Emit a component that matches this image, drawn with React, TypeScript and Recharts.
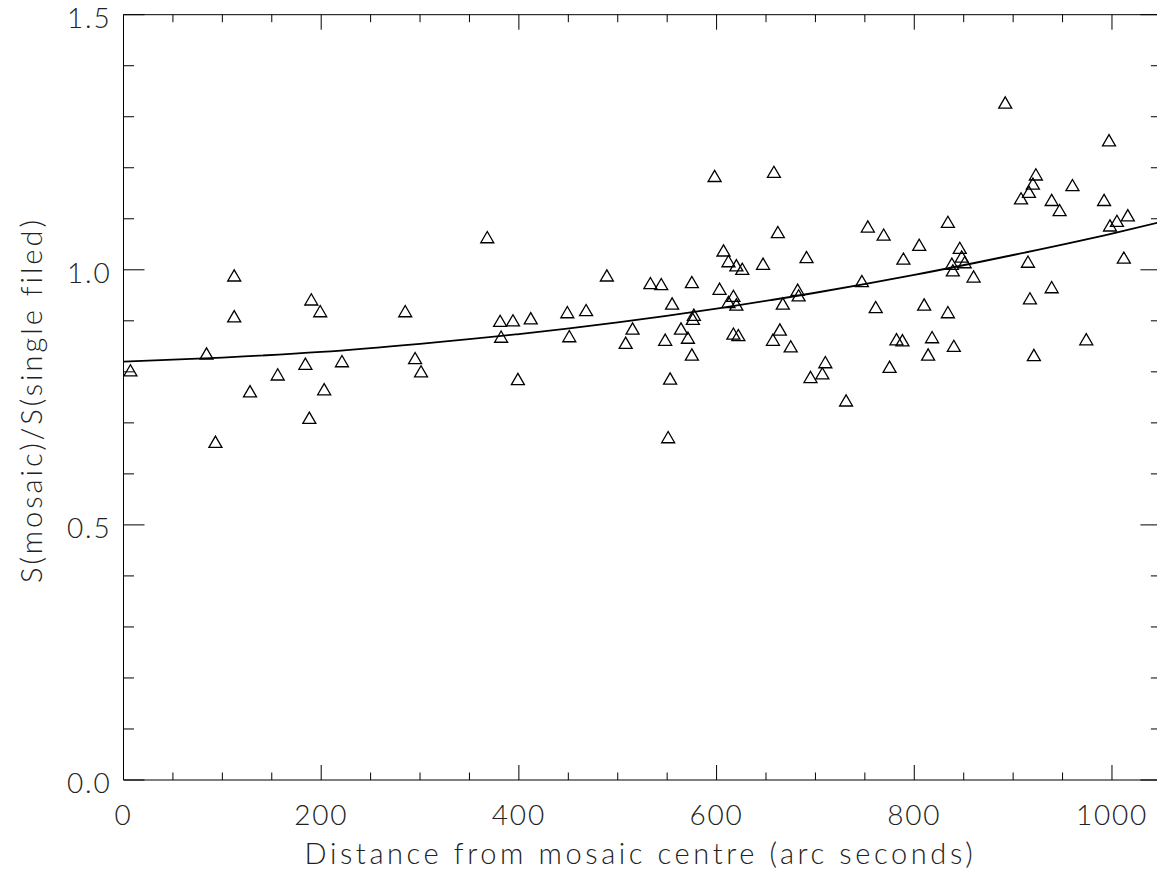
import React from 'react'
import { ComposedChart, Scatter, Line, XAxis, YAxis } from 'recharts'

// distance from mosaic centre (arc seconds)
const distances = [
  7, 84, 93, 112, 112, 128, 156, 184, 188, 190, 199, 203, 221, 285, 295, 301,
  368, 381, 382, 394, 399, 412, 449, 451, 468, 489, 508, 515, 533, 544, 548,
  551, 553, 555, 564, 571, 575, 575, 577, 576, 598, 603, 607, 612, 617, 612,
  620, 617, 622, 620, 626, 647, 658, 662, 657, 664, 667, 675, 682, 683, 691,
  695, 707, 710, 731, 747, 753, 761, 769, 775, 782, 788, 789, 805, 810, 814,
  818, 834, 834, 838, 839, 840, 846, 848, 851, 860, 892, 908, 916, 920, 923,
  915, 917, 921, 939, 939, 947, 960, 974, 992, 997, 998, 1005, 1012, 1016,
]

// S(mosaic)/S(single field)
const ratios = [
  0.803, 0.836, 0.663, 0.989, 0.909, 0.762, 0.795, 0.816, 0.71, 0.942, 0.919,
  0.766, 0.821, 0.919, 0.827, 0.801, 1.064, 0.9, 0.869, 0.901, 0.786, 0.905,
  0.917, 0.87, 0.921, 0.989, 0.857, 0.885, 0.974, 0.972, 0.863, 0.672, 0.787,
  0.934, 0.885, 0.867, 0.976, 0.834, 0.912, 0.904, 1.184, 0.963, 1.038, 1.017,
  0.949, 0.937, 0.932, 0.875, 0.872, 1.009, 1.002, 1.012, 1.192, 1.074, 0.863,
  0.883, 0.934, 0.85, 0.961, 0.95, 1.025, 0.79, 0.797, 0.819, 0.744, 0.978,
  1.085, 0.927, 1.069, 0.81, 0.864, 0.862, 1.022, 1.049, 0.932, 0.834, 0.868,
  1.094, 0.917, 1.012, 0.999, 0.851, 1.043, 1.026, 1.015, 0.987, 1.328, 1.14,
  1.153, 1.169, 1.187, 1.016, 0.944, 0.833, 0.966, 1.137, 1.117, 1.166, 0.864,
  1.137, 1.254, 1.087, 1.096, 1.024, 1.107,
]

// fitted curve
const fitDistances = [0, 100, 200, 300, 400, 500, 600, 700, 800, 900, 1000, 1050]
const fitValues = [0.82, 0.828, 0.839, 0.855, 0.874, 0.897, 0.924, 0.955, 0.99, 1.029, 1.071, 1.094]

const xTicks = [
  0, 50, 100, 150, 200, 250, 300, 350, 400, 450, 500, 550, 600, 650, 700, 750,
  800, 850, 900, 950, 1000,
]
const yTicks = [0, 0.1, 0.2, 0.3, 0.4, 0.5, 0.6, 0.7, 0.8, 0.9, 1.0, 1.1, 1.2, 1.3, 1.4, 1.5]

const points = distances.map((x, i) => ({ x, y: ratios[i] }))
const fit = fitDistances.map((x, i) => ({ x, y: fitValues[i] }))

const FONT = 'Lato, "DejaVu Sans", sans-serif'
const textStyle = { fontFamily: FONT, fontSize: 29, fontWeight: 300, fill: '#222', letterSpacing: 1.6 }
const tickStyle = { ...textStyle, fontSize: 28, letterSpacing: 1.8 }

const isMajorX = (v: number) => v % 200 === 0
const isMajorY = (v: number) => Math.abs(v * 2 - Math.round(v * 2)) < 1e-6

const BottomTick = (props: any) => {
  const { x, y, payload } = props
  const major = isMajorX(payload.value)
  return (
    <g>
      <line x1={x} x2={x} y1={y} y2={y - (major ? 15 : 7.5)} stroke="#000" />
      {major && (
        <text x={x} y={y + 34} textAnchor="middle" dominantBaseline="central" style={tickStyle}>
          {payload.value}
        </text>
      )}
    </g>
  )
}

const TopTick = (props: any) => {
  const { x, y, payload } = props
  const major = isMajorX(payload.value)
  return <line x1={x} x2={x} y1={y} y2={y + (major ? 15 : 7.5)} stroke="#000" />
}

const LeftTick = (props: any) => {
  const { x, y, payload } = props
  const major = isMajorY(payload.value)
  return (
    <g>
      <line x1={x} x2={x + (major ? 21 : 10.5)} y1={y} y2={y} stroke="#000" />
      {major && (
        <text x={x - 12} y={y + 2} textAnchor="end" dominantBaseline="central" style={tickStyle}>
          {payload.value.toFixed(1)}
        </text>
      )}
    </g>
  )
}

const RightTick = (props: any) => {
  const { x, y, payload } = props
  const major = isMajorY(payload.value)
  return <line x1={x} x2={x - (major ? 21 : 10.5)} y1={y} y2={y} stroke="#000" />
}

const Triangle = (props: any) => {
  const { cx, cy } = props
  if (cx == null || cy == null) return null
  const h = 5.6
  const w = 6.5
  return (
    <polygon
      points={`${cx},${cy - h} ${cx - w},${cy + h} ${cx + w},${cy + h}`}
      fill="none"
      stroke="#000"
      strokeWidth={1.3}
    />
  )
}

export default function App() {
  return (
    <div
      style={{
        position: 'fixed',
        top: 0,
        left: 8,
        width: 1149,
        height: 870,
        overflow: 'hidden',
        background: '#fff',
      }}
    >
      <ComposedChart
        width={1170}
        height={870}
        margin={{ top: 8, right: 6.6, bottom: 0, left: 0 }}
      >
        <XAxis
          dataKey="x"
          type="number"
          domain={[0, 1050]}
          ticks={xTicks}
          interval={0}
          allowDataOverflow
          height={90}
          tickSize={0}
          tickMargin={0}
          tickLine={false}
          axisLine={{ stroke: '#000' }}
          tick={<BottomTick />}
          label={{
            content: (p: any) => {
              const vb = p.viewBox
              return (
                <text
                  x={vb.x + vb.width / 2 - 2}
                  y={vb.y + 84}
                  textAnchor="middle"
                  style={{ ...textStyle, letterSpacing: 3.6 }}
                >
                  Distance from mosaic centre (arc seconds)
                </text>
              )
            },
          }}
        />
        <XAxis
          xAxisId="top"
          orientation="top"
          dataKey="x"
          type="number"
          domain={[0, 1050]}
          ticks={xTicks}
          interval={0}
          allowDataOverflow
          height={6.7}
          tickSize={0}
          tickMargin={0}
          tickLine={false}
          axisLine={{ stroke: '#000' }}
          tick={<TopTick />}
        />
        <YAxis
          type="number"
          domain={[0, 1.5]}
          ticks={yTicks}
          interval={0}
          allowDataOverflow
          width={115.5}
          tickSize={0}
          tickMargin={0}
          tickLine={false}
          axisLine={{ stroke: '#000' }}
          tick={<LeftTick />}
          label={{
            content: () => (
              <text
                x={22}
                y={400}
                textAnchor="middle"
                dominantBaseline="central"
                transform="rotate(-90 22 400)"
                style={{ ...textStyle, letterSpacing: 3 }}
              >
                S(mosaic)/S(single filed)
              </text>
            ),
          }}
        />
        <YAxis
          yAxisId="right"
          orientation="right"
          type="number"
          domain={[0, 1.5]}
          ticks={yTicks}
          interval={0}
          allowDataOverflow
          width={10}
          tickSize={0}
          tickMargin={0}
          tickLine={false}
          axisLine={{ stroke: '#000' }}
          tick={<RightTick />}
        />
        <Scatter
          data={points}
          dataKey="y"
          shape={<Triangle />}
          isAnimationActive={false}
        />
        <Line
          data={fit}
          dataKey="y"
          xAxisId="top"
          yAxisId="right"
          type="monotone"
          stroke="#000"
          strokeWidth={1.8}
          dot={false}
          activeDot={false}
          isAnimationActive={false}
        />
      </ComposedChart>
    </div>
  )
}
